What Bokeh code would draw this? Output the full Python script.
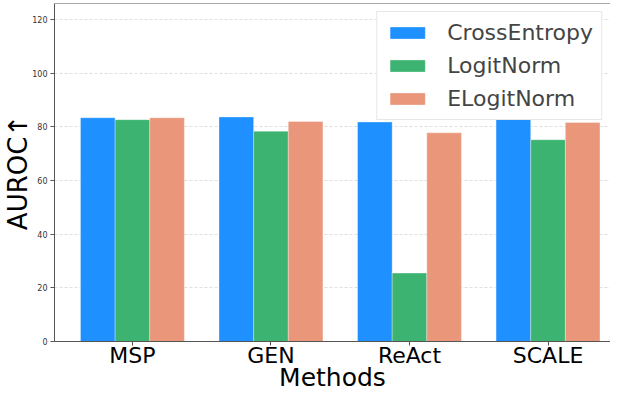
from bokeh.plotting import figure
from bokeh.models import ColumnDataSource, FixedTicker, Legend, LegendItem, Span, Range1d
from bokeh.embed import file_html
from bokeh.resources import INLINE

methods = ["MSP", "GEN", "ReAct", "SCALE"]
cross_entropy = [83.4, 83.7, 81.8, 85.0]
logit_norm = [82.7, 78.4, 25.5, 75.2]
elogit_norm = [83.4, 82.0, 77.8, 81.6]
series_names = ["CrossEntropy", "LogitNorm", "ELogitNorm"]
y_ticks = [0, 20, 40, 60, 80, 100, 120]

colors = ["#1E90FF", "#3CB371", "#E9967A"]
offsets = [-0.25, 0.0, 0.25]
bar_width = 0.25
FONT = "DejaVu Sans"
Y_END = 126
X_START, X_END = -0.5625, 3.451

p = figure(width=610, height=394, output_backend="svg", toolbar_location=None,
           x_range=Range1d(X_START, X_END), y_range=Range1d(0, Y_END),
           min_border_left=48, min_border_right=0, min_border_top=3, min_border_bottom=44)

idx = list(range(len(methods)))
renderers = []
for vals, name, col, off in zip([cross_entropy, logit_norm, elogit_norm], series_names, colors, offsets):
    src = ColumnDataSource(dict(x=[i + off for i in idx], top=vals, m=methods))
    r = p.vbar(x="x", top="top", width=bar_width, bottom=0, source=src,
               fill_color=col, line_color="white", line_alpha=0.4, line_width=0.8)
    renderers.append((name, r))

p.outline_line_color = None
p.background_fill_color = "white"
p.border_fill_color = "white"

# x axis
p.xaxis.ticker = FixedTicker(ticks=idx)
p.xaxis.major_label_overrides = {i: m for i, m in zip(idx, methods)}
p.xaxis.major_label_text_font = FONT
p.xaxis.major_label_text_font_size = "22px"
p.xaxis.major_label_text_color = "black"
p.xaxis.major_label_standoff = -3
p.xaxis.axis_label = "Methods"
p.xaxis.axis_label_text_font = FONT
p.xaxis.axis_label_text_font_size = "25px"
p.xaxis.axis_label_text_font_style = "normal"
p.xaxis.axis_label_text_color = "black"
p.xaxis.axis_label_standoff = -8
p.xaxis.minor_tick_line_color = None
p.xaxis.major_tick_out = 4
p.xaxis.major_tick_in = 0
p.xaxis.axis_line_color = "#555555"
p.xaxis.major_tick_line_color = "#555555"

# y axis
p.yaxis.ticker = FixedTicker(ticks=y_ticks)
p.yaxis.major_label_text_font = FONT
p.yaxis.major_label_text_font_size = "8px"
p.yaxis.major_label_text_color = "#333333"
p.yaxis.major_label_standoff = 3
p.yaxis.axis_label = "AUROC\u2191"
p.yaxis.axis_label_text_font = FONT
p.yaxis.axis_label_text_font_size = "26px"
p.yaxis.axis_label_text_font_style = "normal"
p.yaxis.axis_label_text_color = "black"
p.yaxis.axis_label_standoff = -4
p.yaxis.minor_tick_line_color = None
p.yaxis.major_tick_out = 4
p.yaxis.major_tick_in = 0
p.yaxis.axis_line_color = "#555555"
p.yaxis.major_tick_line_color = "#555555"

p.xgrid.grid_line_color = None
p.ygrid.grid_line_color = "#cccccc"
p.ygrid.grid_line_dash = "3 2"
p.ygrid.grid_line_width = 0.8
p.ygrid.grid_line_alpha = 0.8

top_line = Span(location=Y_END, dimension="width", line_color="#555555", line_width=1)
p.add_layout(top_line)

legend = Legend(items=[LegendItem(label=n, renderers=[r]) for n, r in renderers],
                location="top_right")
legend.label_text_font = FONT
legend.label_text_font_size = "22px"
legend.glyph_width = 44
legend.glyph_height = 15
legend.label_standoff = 18
legend.spacing = 8
legend.padding = 8
legend.margin = 8
legend.border_line_color = "#d0d0d0"
legend.border_line_width = 1
legend.background_fill_alpha = 1.0
p.add_layout(legend)

open("out.html", "w").write(file_html(p, INLINE))
